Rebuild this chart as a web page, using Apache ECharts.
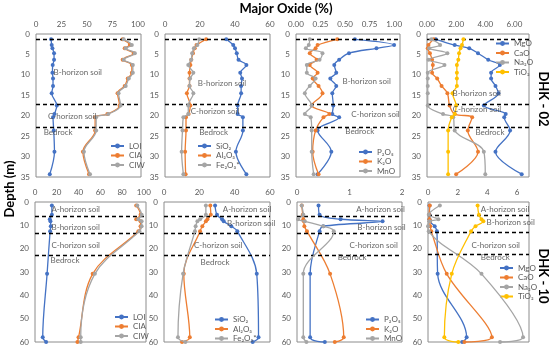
<!DOCTYPE html>
<html><head><meta charset="utf-8">
<script src="https://cdn.jsdelivr.net/npm/echarts@6/dist/echarts.min.js"></script>
<style>html,body{margin:0;padding:0;background:#fff}#c{width:550px;height:354px}</style>
</head><body><div id="c"></div>
<script>
// ---------------- DATA ----------------
// DHK-02 (top row) sample depths (m)
const depth02 = [1.3, 2.7, 3.5, 4.7, 6.3, 7.6, 9.5, 10.9, 12.7, 14.5, 17.5, 19.6, 20.4, 23.6, 28.8, 34.3];
const LOI_02  = [14.8, 15.4, 16.1, 17.7, 17.7, 16.4, 16.1, 16.7, 16.7, 15.4, 20.4, 18.1, 16.7, 17.4, 18.1, 13.5];
const CIA_02  = [85, 92, 87, 96, 85, 94, 94, 90, 87, 80, 82, 70, 58, 58, 46, 52];
const CIW_02  = [86, 94, 88, 97, 86, 95, 95, 91, 88, 81, 83, 71, 59, 59, 47, 53];
const SiO2_02 = [35, 39, 40, 41, 42, 46.5, 43, 44, 43.5, 43.5, 41.5, 41.5, 44.5, 44.5, 40.5, 46.5];
const Al2O3_02= [23.5, 18, 17, 16, 15, 14.5, 14, 14, 14, 12.5, 14.5, 13.5, 12, 12, 11.5, 11.8];
const Fe2O3_02= [19.5, 18.5, 16.5, 15.5, 15, 13.3, 16.2, 14.3, 14, 16.2, 13.3, 13.3, 10.5, 10, 9.5, 10.5];
const P2O5_02 = [0.60, 1.00, 0.82, 0.54, 0.44, 0.39, 0.41, 0.35, 0.41, 0.37, 0.38, 0.37, 0.44, 0.22, 0.36, 0.22];
const K2O_02  = [0.42, 0.22, 0.20, 0.14, 0.21, 0.14, 0.22, 0.17, 0.23, 0.27, 0.16, 0.34, 0.28, 0.20, 0.17, 0.23];
const MnO_02  = [0.14, 0.13, 0.10, 0.27, 0.24, 0.11, 0.11, 0.20, 0.14, 0.09, 0.16, 0.09, 0.15, 0.16, 0.16, 0.18];
const MgO_02  = [0.6, 1.9, 2.9, 3.5, 4.2, 5.0, 4.4, 4.4, 4.7, 4.9, 3.9, 5.4, 5.3, 5.7, 4.7, 6.5];
const CaO_02  = [0.45, 0.1, 0.05, 0.2, 0.35, 0.4, 0.35, 0.7, 1.0, 1.4, 1.55, 1.9, 3.1, 2.8, 3.5, 2.0];
const Na2O_02 = [0.3, 0.9, 0.15, 1.4, 0.1, 1.2, 0.05, 0.05, 0.05, 0.05, 0.05, 1.1, 1.8, 1.9, 3.9, 4.0];
const TiO2_02 = [2.5, 2.4, 2.3, 2.2, 2.15, 2.05, 2.05, 2.05, 2.05, 1.75, 2.0, 1.9, 1.7, 1.45, 1.45, 1.45];

// DHK-10 (bottom row) sample depths (m)
const depth10 = [1.5, 5.5, 7.4, 8.3, 10.4, 12.5, 30.8, 58, 60];
const LOI_10  = [15.5, 15.5, 13.6, 14.2, 14.5, 13.9, 11.1, 7.1, 10.2];
const CIA_10  = [93, 97, 93, 97, 97, 95, 53, 40, 39];
const CIW_10  = [94, 98, 95, 98, 98, 96, 55, 42, 42];
const SiO2_10 = [28.9, 30, 32.9, 33.8, 38.1, 41.5, 52.5, 53.5, 50.2];
const Al2O3_10= [26.2, 26.5, 24.6, 23.7, 21.7, 20.4, 11.2, 14.6, 10.2];
const Fe2O3_10= [23.7, 23.7, 20.4, 18.9, 17.9, 17.5, 10.8, 7.9, 12.1];
const P2O5_10 = [0.41, 0.43, 0.83, 1.63, 0.50, 0.43, 0.25, 0.25, 0.53];
const K2O_10  = [0.09, 0.11, 0.12, 0.13, 0.14, 0.19, 0.63, 0.89, 0.72];
const MnO_10  = [0.09, 0.12, 0.02, 0.15, 0.50, 0.70, 0.12, 0.12, 0.18];
const MgO_10  = [0.1, 0.1, 0.1, 0.12, 0.45, 0.6, 0.65, 2.6, 2.3];
const CaO_10  = [0.12, 0.08, 0.1, 0.12, 0.15, 0.22, 1.26, 4.3, 2.45];
const Na2O_10 = [0.8, 0.05, 0.7, 0.1, 0.0, 0.05, 3.6, 6.4, 4.85];
const TiO2_10 = [3.34, 3.43, 3.6, 3.73, 3.2, 2.9, 1.6, 1.1, 2.04];

// Horizon boundaries (m)
const horizons02 = [1.2, 17.1, 22.9];
const horizons10 = [6.0, 13.4, 23.0];
const horizons10b = [5.5, 12.8, 22.5];

// Horizon labels
const labels02 = ['B-horizon soil', 'C-horizon soil', 'Bedrock'];
const labels10 = ['A-horizon soil', 'B-horizon soil', 'C-horizon soil', 'Bedrock'];

// Names
const N = {LOI:'LOI', CIA:'CIA', CIW:'CIW', SiO2:'SiO₂', Al2O3:'Al₂O₃', Fe2O3:'Fe₂O₃*',
           P2O5:'P₂O₅', K2O:'K₂O', MnO:'MnO', MgO:'MgO', CaO:'CaO', Na2O:'Na₂O', TiO2:'TiO₂'};

// ---------------- STYLE / LAYOUT ----------------
const COL = {blue:'#4472C4', orange:'#ED7D31', gray:'#A5A5A5', yellow:'#FFC000'};
const FONT = 'Lato, "Liberation Sans", "DejaVu Sans", sans-serif';

const panels = [
  {g:[36,34,105,143], depth:depth02, yMax:35, yInt:5, xMax:103, xInt:25, dec:0, hideMax:true,
   s:[[N.LOI,LOI_02,'blue'],[N.CIA,CIA_02,'orange'],[N.CIW,CIW_02,'gray']],
   lines:horizons02, labels:labels02, lpos:[[41,9.5],[35.5,20.2],[21.7,24]], leg:[110,142]},
  {g:[165,34,105,143], depth:depth02, yMax:35, yInt:5, xMax:60, xInt:20, dec:0, hideMax:false,
   s:[[N.SiO2,SiO2_02,'blue'],[N.Al2O3,Al2O3_02,'orange'],[N.Fe2O3,Fe2O3_02,'gray']],
   lines:horizons02, labels:labels02, lpos:[[32.6,12.1],[28.6,19],[27.8,24]], leg:[197,142]},
  {g:[296,34,104,143], depth:depth02, yMax:35, yInt:5, xMax:1.06, xInt:0.25, dec:2, hideMax:true,
   s:[[N.P2O5,P2O5_02,'blue'],[N.K2O,K2O_02,'orange'],[N.MnO,MnO_02,'gray']],
   lines:horizons02, labels:labels02, lpos:[[0.72,11.7],[0.81,19.8],[0.65,23.9]], leg:[358,148]},
  {g:[427,34,102,143], depth:depth02, yMax:35, yInt:5, xMax:7, xInt:2, dec:2, hideMax:true,
   s:[[N.MgO,MgO_02,'blue'],[N.CaO,CaO_02,'orange'],[N.Na2O,Na2O_02,'gray'],[N.TiO2,TiO2_02,'yellow']],
   lines:horizons02, labels:labels02, lpos:[[3.41,14.5],[3.43,18.4],[4.32,24]], leg:[495,39.5]},
  {g:[35,202,111,140], depth:depth10, yMax:60, yInt:10, xMax:102, xInt:20, dec:0, hideMax:true,
   s:[[N.LOI,LOI_10,'blue'],[N.CIA,CIA_10,'orange'],[N.CIW,CIW_10,'gray']],
   lines:horizons10, labels:labels10, lpos:[[37.4,3],[37.4,11],[37.4,18.4],[27.6,24.9]], leg:[114,313]},
  {g:[164,202,106,140], depth:depth10, yMax:60, yInt:10, xMax:60, xInt:20, dec:0, hideMax:false,
   s:[[N.SiO2,SiO2_10,'blue'],[N.Al2O3,Al2O3_10,'orange'],[N.Fe2O3,Fe2O3_10,'gray']],
   lines:horizons10, labels:labels10, lpos:[[47,3],[49.4,9.2],[30.7,18.4],[28.9,26]], leg:[214,315.5]},
  {g:[297,202,105,140], depth:depth10, yMax:60, yInt:10, xMax:2, xInt:1, dec:0, hideMax:false,
   s:[[N.P2O5,P2O5_10,'blue'],[N.K2O,K2O_10,'orange'],[N.MnO,MnO_10,'gray']],
   lines:horizons10, labels:labels10, lpos:[[1.59,3],[1.61,11],[1.46,18.4],[1.05,23.9]], leg:[365,315.5]},
  {g:[428,202,101,140], depth:depth10, yMax:60, yInt:10, xMax:6.8, xInt:2, dec:0, hideMax:true,
   s:[[N.MgO,MgO_10,'blue'],[N.CaO,CaO_10,'orange'],[N.Na2O,Na2O_10,'gray'],[N.TiO2,TiO2_10,'yellow']],
   lines:horizons10b, labels:labels10, lpos:[[5.19,3],[5.57,8.7],[4.56,18.4],[4.53,23.9]], leg:[499,264]}
];

const option = {
  animation:false, backgroundColor:'#fff',
  grid:[], xAxis:[], yAxis:[], series:[], legend:[],
  graphic:[
    {type:'text', x:286, y:9, style:{text:'Major Oxide (%)', font:'bold 13px '+FONT, fill:'#000', textAlign:'center', textVerticalAlign:'middle'}},
    {type:'text', x:10, y:189, rotation:Math.PI/2, style:{text:'Depth (m)', font:'bold 13px '+FONT, fill:'#000', textAlign:'center', textVerticalAlign:'middle'}},
    {type:'text', x:543, y:99, rotation:-Math.PI/2, style:{text:'DHK - 02', font:'bold 13px '+FONT, fill:'#000', textAlign:'center', textVerticalAlign:'middle'}},
    {type:'text', x:543, y:276, rotation:-Math.PI/2, style:{text:'DHK - 10', font:'bold 13px '+FONT, fill:'#000', textAlign:'center', textVerticalAlign:'middle'}}
  ]
};

panels.forEach((p, i) => {
  option.grid.push({left:p.g[0], top:p.g[1], width:p.g[2], height:p.g[3], show:true,
    borderColor:'#8c8c8c', borderWidth:1, backgroundColor:'transparent', containLabel:false, outerBoundsMode:'none'});
  option.xAxis.push({type:'value', gridIndex:i, position:'top', min:0, max:p.xMax, interval:p.xInt,
    axisLine:{show:false}, axisTick:{show:false}, splitLine:{show:false},
    axisLabel:{fontSize:8, color:'#595959', fontFamily:FONT, margin:6, showMinLabel:true,
      showMaxLabel:!p.hideMax, formatter:(v)=>v.toFixed(p.dec)}});
  option.yAxis.push({type:'value', gridIndex:i, inverse:true, min:0, max:p.yMax, interval:p.yInt,
    axisLine:{show:false}, axisTick:{show:false}, splitLine:{show:false},
    axisLabel:{fontSize:8, color:'#595959', fontFamily:FONT, margin:6}});
  p.s.forEach((s, k) => {
    const c = COL[s[2]];
    const ser = {type:'line', name:s[0], xAxisIndex:i, yAxisIndex:i,
      data:p.depth.map((d, j) => [s[1][j], d]),
      smooth:0.35, symbol:'circle', symbolSize:4, showSymbol:true, clip:false,
      lineStyle:{width:1.3, color:c}, itemStyle:{color:c}, z:3+k};
    if (k === 0) {
      ser.markLine = {silent:true, symbol:['none','none'], animation:false,
        label:{show:false}, lineStyle:{type:[4,3], color:'#000', width:1.4},
        data:p.lines.map(v => ({yAxis:v}))};
    }
    option.series.push(ser);
  });
  option.series.push({type:'scatter', xAxisIndex:i, yAxisIndex:i, silent:true, symbolSize:0, z:10,
    data:p.labels.map((t, j) => ({name:t, value:p.lpos[j]})),
    label:{show:true, position:'inside', formatter:'{b}', fontSize:8, color:'#404040', fontFamily:FONT}});
  option.legend.push({left:p.leg[0], top:p.leg[1], orient:'vertical', padding:0,
    itemWidth:13, itemHeight:6, itemGap:1.5, data:p.s.map(s => s[0]),
    textStyle:{fontSize:8, color:'#595959', fontFamily:FONT, lineHeight:7}});
});

const chart = echarts.init(document.getElementById('c'), null, {renderer:'canvas'});
chart.setOption(option);
</script>
</body></html>
